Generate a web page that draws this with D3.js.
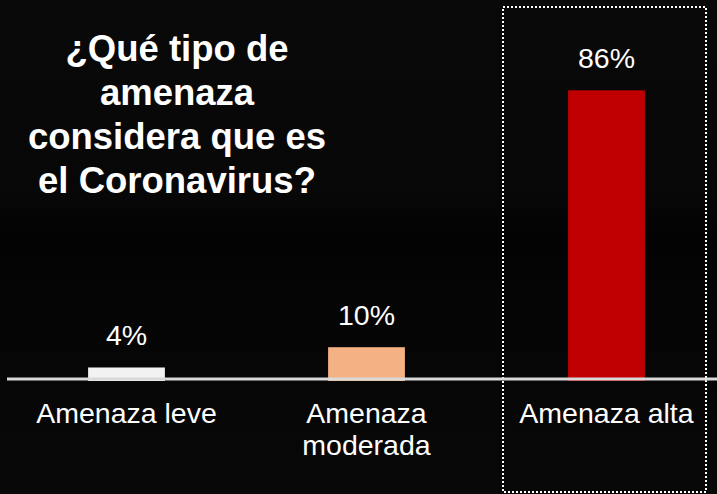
<!DOCTYPE html>
<html>
<head>
<meta charset="utf-8">
<script src="https://cdn.jsdelivr.net/npm/d3@7"></script>
<style>
  html, body { margin: 0; padding: 0; background: #080808; }
  svg { display: block; }
</style>
</head>
<body>
<div id="chart"></div>
<script>
/* data */
const categories = ["Amenaza leve", "Amenaza moderada", "Amenaza alta"];
const categoryLines = [["Amenaza leve"], ["Amenaza", "moderada"], ["Amenaza alta"]];
const values = [4, 10, 86];
const valueLabels = ["4%", "10%", "86%"];
const barColors = ["#f2f2f2", "#f4b183", "#c00000"];
const titleLines = ["¿Qué tipo de", "amenaza", "considera que es", "el Coronavirus?"];
const highlighted = "Amenaza alta";

/* svg setup */
const width = 717;
const height = 494;
const baseY = 381;

const svg = d3
  .select("#chart")
  .append("svg")
  .attr("width", width)
  .attr("height", height);

/* background, slightly darker band in the middle */
const defs = svg.append("defs");
const grad = defs
  .append("linearGradient")
  .attr("id", "bg-grad")
  .attr("x1", 0).attr("y1", 0)
  .attr("x2", 0).attr("y2", 1);
grad.append("stop").attr("offset", "0%").attr("stop-color", "#090909");
grad.append("stop").attr("offset", "40%").attr("stop-color", "#070707");
grad.append("stop").attr("offset", "48%").attr("stop-color", "#030303");
grad.append("stop").attr("offset", "58%").attr("stop-color", "#050505");
grad.append("stop").attr("offset", "100%").attr("stop-color", "#080808");
svg
  .append("rect")
  .attr("width", width)
  .attr("height", height)
  .attr("fill", "url(#bg-grad)");

/*
 * scales
 */
const x = d3
  .scaleBand()
  .domain(categories)
  .range([6.5, 726.5])
  .paddingInner(0.68)
  .paddingOuter(0.34);

const y = d3.scaleLinear().domain([0, 100]).range([baseY, 43]);

/* dotted frame around highlighted category */
const cx = Math.round(x(highlighted) + x.bandwidth() / 2);
svg
  .append("rect")
  .attr("x", cx - 104)
  .attr("y", 7)
  .attr("width", 203)
  .attr("height", 485)
  .attr("fill", "none")
  .attr("stroke", "#ffffff")
  .attr("stroke-width", 2)
  .attr("stroke-dasharray", "2,2");

/* bars */
svg
  .append("g")
  .selectAll("rect")
  .data(values)
  .enter()
  .append("rect")
  .attr("x", (d, i) => x(categories[i]))
  .attr("y", (d) => y(d))
  .attr("width", x.bandwidth())
  .attr("height", (d) => baseY - y(d))
  .attr("fill", (d, i) => barColors[i]);

/* baseline (drawn over the bars like in the original) */
svg
  .append("line")
  .attr("x1", 7)
  .attr("x2", width)
  .attr("y1", 379)
  .attr("y2", 379)
  .attr("stroke", "#d9d9d9")
  .attr("stroke-width", 3);

/* value labels */
svg
  .append("g")
  .selectAll("text")
  .data(values)
  .enter()
  .append("text")
  .attr("x", (d, i) => x(categories[i]) + x.bandwidth() / 2)
  .attr("y", (d) => y(d) - 22)
  .attr("text-anchor", "middle")
  .attr("fill", "#ffffff")
  .style("font-family", "'Liberation Sans', Arial, sans-serif")
  .style("font-size", "28.5px")
  .text((d, i) => valueLabels[i]);

/* category labels */
const catText = svg
  .append("g")
  .selectAll("text")
  .data(categories)
  .enter()
  .append("text")
  .attr("text-anchor", "middle")
  .attr("fill", "#ffffff")
  .style("font-family", "'Liberation Sans', Arial, sans-serif")
  .style("font-size", "28.5px");
catText
  .selectAll("tspan")
  .data((d, i) => categoryLines[i].map((t) => ({ t, c: d })))
  .enter()
  .append("tspan")
  .attr("x", (d) => x(d.c) + x.bandwidth() / 2)
  .attr("y", (d, j) => 423 + j * 32)
  .text((d) => d.t);

/* title */
svg
  .append("text")
  .attr("text-anchor", "middle")
  .attr("fill", "#ffffff")
  .style("font-family", "'Liberation Sans', Arial, sans-serif")
  .style("font-size", "36.5px")
  .style("font-weight", "bold")
  .selectAll("tspan")
  .data(titleLines)
  .enter()
  .append("tspan")
  .attr("x", 177)
  .attr("y", (d, i) => 61 + i * 44)
  .text((d) => d);
</script>
</body>
</html>
